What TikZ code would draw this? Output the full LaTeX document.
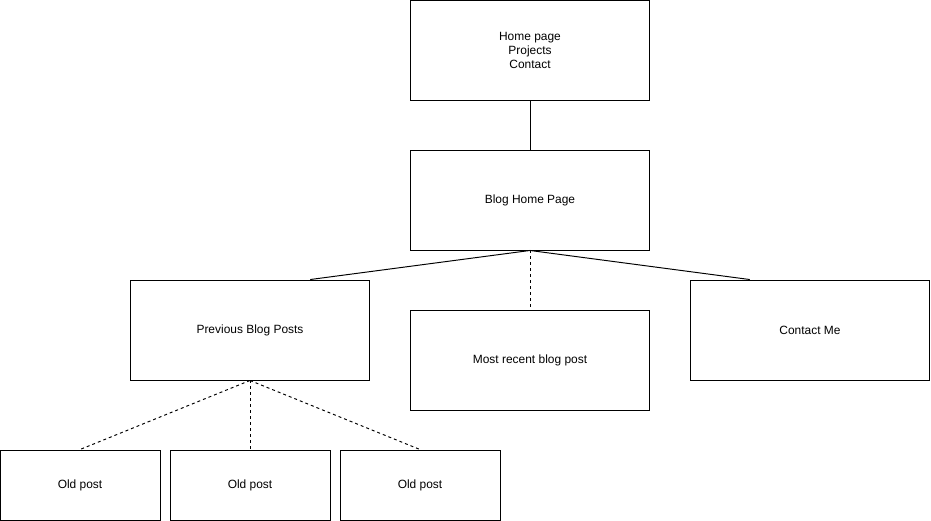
\documentclass[tikz,border=0pt]{standalone}
\usepackage{fontspec}
\setmainfont{Liberation Sans}
\usetikzlibrary{calc}

\begin{document}
\begin{tikzpicture}[x=.02cm, y=-.02cm,
page/.style={draw, line width=.55pt, inner sep=0pt, minimum width=4.8cm, minimum height=2cm, align=center, font=\fontsize{6.8}{7.95}\selectfont},
oldpage/.style={page, minimum width=3.2cm, minimum height=1.4cm},
link/.style={line width=.55pt},
weaklink/.style={line width=.55pt, dash pattern=on 1.7pt off 1.7pt}]
\useasboundingbox (0,0) rectangle (931,521);
\node [page] (home) at (530,50) {Home page\\Projects\\Contact};

\node [page] (blog) at (530,200) {Blog Home Page};
\node [page] (prev) at (250,330) {Previous Blog Posts};
\node [page] (recent) at (530,360) {Most recent blog post};
\node [page] (contact) at (810,330) {Contact Me};
\node [oldpage] (old1) at (80,485) {Old post};
\node [oldpage] (old2) at (250,485) {Old post};
\node [oldpage] (old3) at (420,485) {Old post};
\draw [link] (home) edge (blog);
\draw [link] (blog.south) edge ($(prev.north west)!.75!(prev.north east)$);
\draw [link] (blog.south) edge ($(contact.north west)!.25!(contact.north east)$);
\draw [weaklink] (blog) edge (recent);
\draw [weaklink] (prev.south) edge (old1.north);
\draw [weaklink] (prev) edge (old2);
\draw [weaklink] (prev.south) edge (old3.north);
\end{tikzpicture}
\end{document}
